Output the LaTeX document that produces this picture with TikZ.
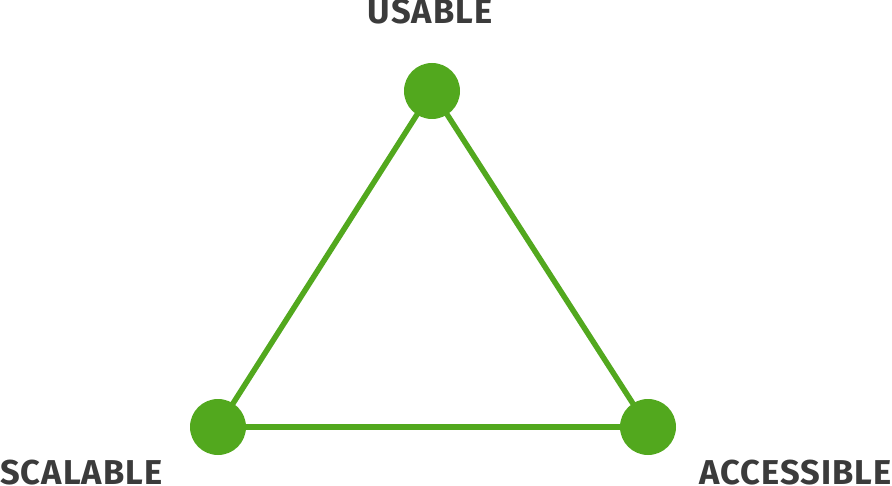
\documentclass[tikz,border=0pt]{standalone}
\usepackage{fontspec}
\setmainfont{Fira Sans}
\newfontfamily\labelfont[LetterSpace=3]{Fira Sans}
\usetikzlibrary{positioning}
\definecolor{leaf}{HTML}{52A81E}
\definecolor{ink}{HTML}{3B3B3B}

\begin{document}
\begin{tikzpicture}[
    x=1pt, y=-1pt,
    dot/.style={circle, fill=leaf, minimum size=56pt, inner sep=0pt},
    edge/.style={draw=leaf, line width=5.5pt, shorten <=-4pt, shorten >=-4pt},
    tag/.style={font=\labelfont\fontsize{34.5}{34.5}\selectfont\bfseries, text=ink, inner sep=0pt}
]
    \useasboundingbox (0,0) rectangle (892,486);

    % Corners
    \node[dot] (usable) at (432,91) {};
    \node[dot] (scalable) at (218,427) {};
    \node[dot] (accessible) at (648,427) {};

    % Sides
    \draw[edge] (usable) -- (scalable);
    \draw[edge] (scalable) -- (accessible);
    \draw[edge] (accessible) -- (usable);

    % Labels
    \node[tag, anchor=base] (usablelbl) at (430,24) {USABLE};
    \node[tag, anchor=base west] (scalablelbl) at (0,484) {SCALABLE};
    \node[tag, anchor=base east] (accessiblelbl) at (892,484) {ACCESSIBLE};
\end{tikzpicture}
\end{document}
